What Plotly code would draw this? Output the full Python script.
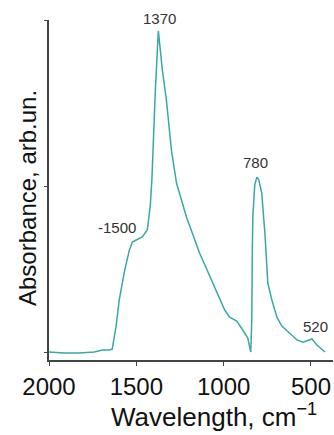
import plotly.graph_objects as go

# IR spectrum
wavenumber = [2000, 1914, 1828, 1741, 1695, 1655, 1638, 1615, 1598, 1569, 1540, 1523, 1500,
              1466, 1437, 1420, 1411, 1405, 1391, 1374, 1351, 1328, 1299, 1270, 1213,
              1138, 1063, 1023, 994, 966, 925, 891, 862, 845, 839, 836, 833, 822, 810,
              799, 782, 764, 747, 724, 695, 667, 638, 580, 546, 517, 494, 466, 437, 420]
absorbance = [0.0, -0.006, -0.006, 0.0, 0.012, 0.012, 0.018, 0.163, 0.314, 0.483, 0.616, 0.665, 0.677,
              0.695, 0.737, 0.888, 1.039, 1.220, 1.583, 1.940, 1.704, 1.523, 1.220, 1.021, 0.816,
              0.598, 0.417, 0.314, 0.254, 0.211, 0.187, 0.133, 0.085, 0.0, 0.193, 0.616, 0.816, 1.01, 1.057,
              1.04, 0.96, 0.719, 0.417, 0.314, 0.211, 0.157, 0.127, 0.073, 0.060, 0.073, 0.079, 0.042, 0.012, 0.0]

label_text = ["1370", "-1500", "780", "520"]
label_x = [1368, 1500, 816, 477]
label_y = [1.94, 0.677, 1.057, 0.079]

x_ticks = [2000, 1500, 1000, 500]
y_ticks = [0, 1, 2]

fig = go.Figure()
fig.add_trace(go.Scatter(x=wavenumber, y=absorbance, mode="lines",
                         line=dict(color="#3aa8a2", width=1.5), hoverinfo="skip"))

shifts = [(0, 2, "center", "bottom"), (2, 12, "right", "middle"),
          (0, 4, "center", "bottom"), (0, 12, "center", "middle")]
for t, x, y, (xs, ys, xa, ya) in zip(label_text, label_x, label_y, shifts):
    fig.add_annotation(x=x, y=y, text=t, showarrow=False, xshift=xs, yshift=ys,
                       xanchor=xa, yanchor=ya,
                       font=dict(family="Liberation Sans, Arial", size=15, color="#333"))

fig.add_annotation(xref="paper", yref="paper", x=(27 - 49) / 284, y=(360 - 198) / 340,
                   text="Absorbance, arb.un.", textangle=-90, showarrow=False,
                   xanchor="center", yanchor="middle",
                   font=dict(family="Liberation Sans, Arial", size=24, color="#111"))

fig.add_annotation(xref="paper", yref="paper", x=(214 - 49) / 284, y=(360 - 415) / 340,
                   text="Wavelength, cm<sup>−1</sup>", showarrow=False,
                   xanchor="center", yanchor="middle",
                   font=dict(family="Liberation Sans, Arial", size=26, color="#111"))

fig.update_layout(
    width=334, height=435,
    margin=dict(l=49, r=1, t=20, b=75),
    paper_bgcolor="white", plot_bgcolor="white",
    showlegend=False,
    font=dict(family="Liberation Sans, Arial", color="#111"),
    xaxis=dict(range=[2000, 374], tickvals=x_ticks, ticks="outside", ticklen=4,
               tickcolor="#444", showline=True, linecolor="#444", linewidth=1.5,
               showgrid=False, zeroline=False, tickfont=dict(size=24, color="#111")),
    yaxis=dict(range=[-0.048, 2.006], tickvals=y_ticks, showticklabels=False,
               ticks="outside", ticklen=3, tickcolor="#444",
               showline=True, linecolor="#444", linewidth=1.5,
               showgrid=False, zeroline=False),
)

fig.write_html("out.html", default_width="334px", default_height="435px",
               config={"responsive": False, "displayModeBar": False},
               post_script="document.body.style.margin='0';document.body.style.overflow='hidden';")
